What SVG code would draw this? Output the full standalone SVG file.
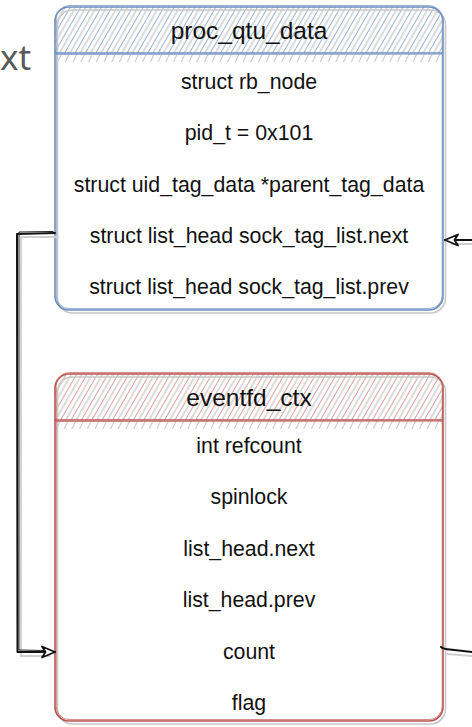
<svg xmlns="http://www.w3.org/2000/svg" width="472" height="727" viewBox="0 0 472 727">
<style>
.t{font-family:"Liberation Sans",Arial,Helvetica,sans-serif;font-size:21.3px;fill:#111;text-anchor:middle}
.h{font-size:24.5px}
.sh{fill:none;stroke:#c8c8c8;stroke-width:1.6}
.bm{fill:none;stroke:#6c8ebf;stroke-width:1.6}
.bs{fill:none;stroke:#7e9cc8;stroke-width:1;opacity:.85}
.rm{fill:none;stroke:#b85450;stroke-width:1.6}
.rs{fill:none;stroke:#c46a66;stroke-width:1;opacity:.85}
.c{fill:none;stroke:#111;stroke-width:2;stroke-linejoin:round;stroke-linecap:round}
.c2{fill:none;stroke:#222;stroke-width:1;stroke-linecap:round}
.cs{fill:none;stroke:#cfcfcf;stroke-width:1.8;stroke-linecap:round}
</style>
<defs>
<pattern id="hb" patternUnits="userSpaceOnUse" width="9" height="9" patternTransform="rotate(30)">
<line x1="1.5" y1="0" x2="1.5" y2="9" stroke="#9db5d9" stroke-width="1.1"/>
<line x1="6" y1="0" x2="6" y2="9" stroke="#bdbdbd" stroke-width="1.1"/>
</pattern>
<pattern id="hr" patternUnits="userSpaceOnUse" width="9" height="9" patternTransform="rotate(30)">
<line x1="1.5" y1="0" x2="1.5" y2="9" stroke="#dea4a2" stroke-width="1.1"/>
<line x1="6" y1="0" x2="6" y2="9" stroke="#bdbdbd" stroke-width="1.1"/>
</pattern>
<pattern id="hg" patternUnits="userSpaceOnUse" width="7" height="7" patternTransform="rotate(25)">
<line x1="1.5" y1="0" x2="1.5" y2="7" stroke="#b0b0b0" stroke-width="1.1"/>
</pattern>
<marker id="ar" viewBox="0 0 15 14" refX="14" refY="7" markerWidth="15" markerHeight="14" markerUnits="userSpaceOnUse" orient="auto">
<path d="M1,1.5 L14,7 L1,12.5 L4.5,7 Z" fill="#fff" stroke="#111" stroke-width="1.8" stroke-linejoin="round"/>
</marker>
</defs>
<rect width="472" height="727" fill="#fff"/>
<text x="0" y="70" font-family="'Noto Sans','Open Sans',sans-serif" font-size="35" fill="#5a5a5a">xt</text>

<g id="proc_qtu_data">
<rect x="55" y="7" width="388" height="303" rx="14" fill="#fff"/>
<path d="M55,53 L55,21 Q55,7 69,7 L429,7 Q443,7 443,21 L443,53 Z" fill="url(#hb)"/>
<rect x="56" y="54" width="386" height="8" fill="url(#hg)" opacity=".7"/>
<rect class="sh" x="57.5" y="10" width="388" height="303" rx="15"/>
<rect class="bm" x="55" y="7" width="388" height="303" rx="14"/>
<rect class="bs" x="56.2" y="5.6" width="386" height="303" rx="13"/>
<line class="bm" x1="55" y1="53" x2="443" y2="53"/>
<line class="bs" x1="56" y1="54.5" x2="442" y2="54.2"/>
<text class="t h" x="249" y="39">proc_qtu_data</text>
<text class="t" x="249" y="89">struct rb_node</text>
<text class="t" x="249" y="140">pid_t = 0x101</text>
<text class="t" x="249" y="192">struct uid_tag_data *parent_tag_data</text>
<text class="t" x="249" y="243">struct list_head sock_tag_list.next</text>
<text class="t" x="249" y="294">struct list_head sock_tag_list.prev</text>
</g>

<g id="eventfd_ctx">
<rect x="55" y="374" width="388" height="347" rx="14" fill="#fff"/>
<path d="M55,420 L55,388 Q55,374 69,374 L429,374 Q443,374 443,388 L443,420 Z" fill="url(#hr)"/>
<rect x="56" y="421" width="386" height="8" fill="url(#hg)" opacity=".7"/>
<rect class="sh" x="57.5" y="377" width="388" height="347" rx="15"/>
<rect class="rm" x="55" y="374" width="388" height="347" rx="14"/>
<rect class="rs" x="56.2" y="372.6" width="386" height="347" rx="13"/>
<line class="rm" x1="55" y1="420" x2="443" y2="420"/>
<line class="rs" x1="56" y1="421.5" x2="442" y2="421.2"/>
<text class="t h" x="249" y="406">eventfd_ctx</text>
<text class="t" x="249" y="453">int refcount</text>
<text class="t" x="249" y="504">spinlock</text>
<text class="t" x="249" y="556">list_head.next</text>
<text class="t" x="249" y="607">list_head.prev</text>
<text class="t" x="249" y="659">count</text>
<text class="t" x="249" y="710">flag</text>
</g>

<g id="connectors">
<path class="cs" d="M58,237 L21,237 L21,656 L50,656"/>
<path class="c" d="M55,233 L17,234 L17.5,652 L55,652" marker-end="url(#ar)"/>
<path class="c2" d="M53,231.5 L19,232 L19,650 L45,650.5"/>
<path class="cs" d="M472,244 L452,244"/>
<path class="c" d="M472,240 L445,240" marker-end="url(#ar)"/>
<path class="cs" d="M447,654 L472,656"/>
<path class="c" d="M441,647 Q443,649 450,649.5 L472,652"/>
</g>
</svg>
